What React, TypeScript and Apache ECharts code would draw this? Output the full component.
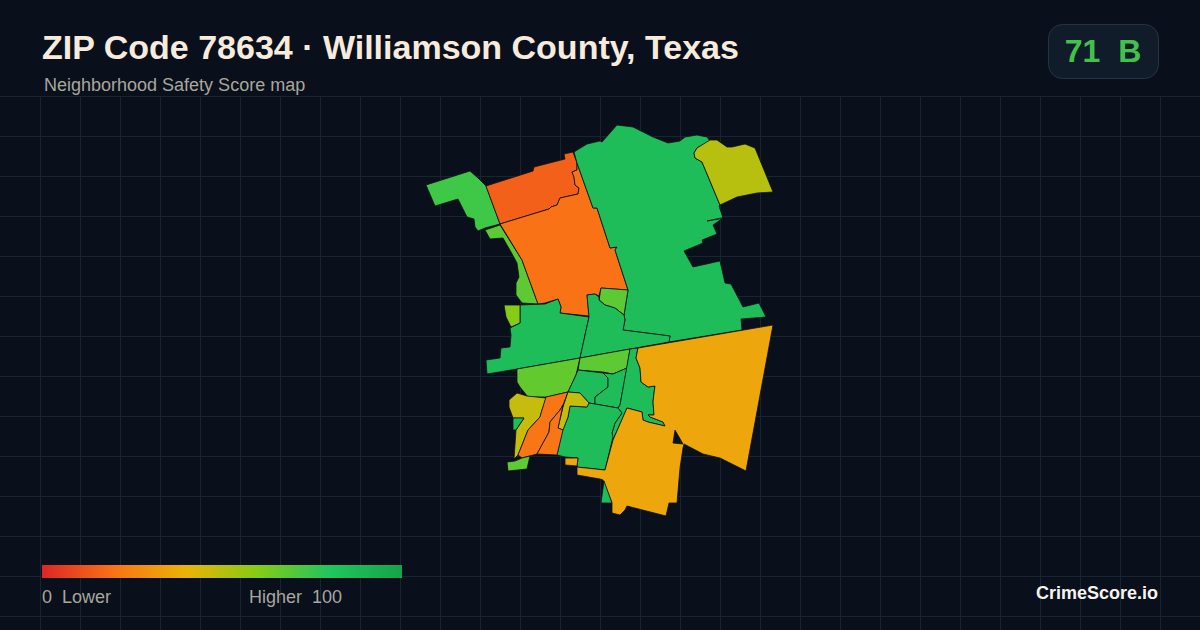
import React, { useEffect, useRef } from "react";
import * as echarts from "echarts";

type Pt = [number, number];

const titleText = "ZIP Code 78634 · Williamson County, Texas";
const subtitleText = "Neighborhood Safety Score map";
const badgeText = "71  B";
const legendLow = "0  Lower";
const legendHigh = "Higher  100";
const brandText = "CrimeScore.io";
const scaleColors = ["#dc2626", "#f97316", "#eab308", "#84cc16", "#22c55e", "#16a34a"];

const regionNames = [
  "nw", "sliver", "redOrange", "orange", "northGreen", "northLine", "nwLime", "ne", "west", "westLime",
  "center", "midLime", "midStrip", "innerA", "innerB", "eastGreen", "south", "amber", "amberBit", "tipGreen",
  "swOlive", "swGreen", "swOrange", "seOlive", "seOrange", "swLime",
];
const regionValues = [
  74, 68, 15, 20, 85, 85, 68, 50, 85, 60,
  85, 67, 68, 85, 85, 85, 85, 36, 36, 85,
  47, 85, 21, 47, 21, 68,
];
const regionRings: Pt[][][] = [
  [[[426,185],[470,171],[478,178],[486,186],[500,224],[485,228],[478,231],[475,227],[474,219],[467,217],[458,199],[435,206]]],
  [[[485,230],[500,225],[522,260],[538,304],[522,303],[516,295],[516,283],[519,277],[517,263],[511,252],[503,238],[490,239]]],
  [[[486,186],[533,171],[534,167],[565,159],[564,154],[573,152],[577,163],[577,170],[572,172],[574,177],[575,185],[579,188],[578,194],[560,198],[557,205],[551,207],[549,209],[500,224]]],
  [[[500,224],[549,209],[551,207],[557,205],[560,198],[578,194],[579,188],[575,185],[574,177],[572,172],[577,170],[577,163],[593,208],[597,208],[610,248],[617,247],[615,250],[628,290],[601,288],[599,296],[595,294],[587,295],[589,316],[560,313],[561,307],[558,299],[545,303],[538,304],[522,260]]],
  [[[574,152],[587,144],[600,141],[602,142],[617,125],[633,127],[653,137],[668,143],[680,141],[685,137],[697,135],[707,137],[710,141],[697,148],[694,153],[695,158],[702,162],[720,205],[719,206],[723,218],[713,225],[717,234],[702,240],[703,243],[684,251],[693,267],[720,261],[725,283],[731,284],[743,307],[759,303],[766,317],[741,319],[742,330],[669,342],[670,336],[623,330],[625,320],[624,315],[628,290],[615,250],[617,247],[610,248],[597,208],[593,208],[577,163]]],
  [[[707,221],[723,217.6],[723,218.4]]],
  [[[601,288],[628,290],[624,315],[615,308],[605,305],[599,300]]],
  [[[710,140],[717,140],[727,147],[732,147],[745,144],[755,148],[773,192],[757,193],[737,197],[720,205],[702,162],[695,158],[694,153],[697,148]]],
  [[[520,305],[545,304],[558,299],[561,307],[560,313],[589,317],[580,358],[517,369],[487,374],[486,360],[500,358],[501,348],[510,347],[511,335],[510,328],[520,323]]],
  [[[504,305],[520,305],[520,323],[511,327],[506,317]]],
  [[[587,295],[595,294],[599,297],[599,300],[605,305],[615,308],[624,315],[625,320],[623,330],[670,336],[669,342],[580,358],[589,317]]],
  [[[517,369],[580,358],[576,375],[568,392],[547,397],[528,397],[520,387],[517,382]]],
  [[[580,358],[630,349],[627,368],[613,374],[603,372],[578,370]]],
  [[[578,370],[603,373],[608,378],[608,387],[595,397],[595,404],[589,403],[580,393],[568,392],[576,375]]],
  [[[603,373],[613,374],[627,368],[620,405],[618,408],[595,404],[595,397],[608,387],[608,378]]],
  [[[630,349],[638,348],[636,358],[640,368],[641,382],[648,387],[655,386],[654,393],[653,402],[654,415],[648,415],[650,417],[663,422],[665,426],[648,422],[643,420],[642,412],[627,408],[613,440],[612,433],[615,423],[622,413],[618,408],[620,405]]],
  [[[570,406],[587,407],[589,403],[595,404],[618,408],[622,413],[615,423],[612,433],[613,437],[605,470],[577,467],[578,458],[565,457],[557,455],[562,432],[568,417]]],
  [
    [[638,348],[773,325],[746,471],[720,458],[703,454],[684,444],[683,448],[680,468],[677,503],[669,503],[666,516],[627,506],[625,510],[620,515],[612,513],[612,503],[603,480],[600,479],[577,475],[577,467],[605,470],[613,440],[627,408],[642,412],[643,420],[648,422],[665,426],[663,422],[650,417],[648,415],[654,415],[653,402],[654,393],[655,386],[648,387],[641,382],[640,368],[636,358]],
    [[675,430],[673,443],[683,444]],
  ],
  [[[565,458],[578,458],[577,466],[565,465]]],
  [[[604,481],[612,503],[601,503]]],
  [[[509,400],[517,393],[527,396],[546,398],[542,410],[540,417],[528,430],[518,455],[514,459],[516,430],[524,418],[513,418],[509,407]]],
  [[[513,418],[524,418],[516,430],[513,430]]],
  [[[546,397],[568,392],[563,405],[560,410],[550,422],[549,432],[537,454],[522,458],[518,455],[528,430],[540,417],[542,410]]],
  [[[568,392],[580,393],[589,403],[587,407],[570,406],[568,417],[563,430],[558,428],[563,407]]],
  [[[563,405],[558,428],[563,430],[557,455],[537,454],[549,432],[550,422],[560,410]]],
  [[[507,462],[515,461],[522,458],[530,456],[527,469],[508,471]]],
];

const gridXs = Array.from({ length: 30 }, (_, i) => (i + 1) * 40);
const gridYs = Array.from({ length: 14 }, (_, i) => 96 + i * 40);

export default function App() {
  const ref = useRef<HTMLDivElement>(null);
  useEffect(() => {
    document.body.style.margin = "0";
    document.body.style.background = "#0a101b";
    const chart = echarts.init(ref.current!, null, { renderer: "svg" });
    const geoJson: any = {
      type: "FeatureCollection",
      features: regionNames.map((name, i) => ({
        type: "Feature",
        properties: { name },
        geometry: { type: "Polygon", coordinates: regionRings[i] },
      })),
    };
    echarts.registerMap("zip78634", geoJson);
    const allPts = regionRings.flat(2);
    const xs = allPts.map((p) => p[0]);
    const ys = allPts.map((p) => p[1]);
    const minX = Math.min(...xs), maxX = Math.max(...xs), minY = Math.min(...ys), maxY = Math.max(...ys);
    const font = "'Liberation Sans', Arial, sans-serif";

    const gridColor = "#162530";
    const gradient = new echarts.graphic.LinearGradient(
      0, 0, 1, 0,
      scaleColors.map((color, i) => ({ offset: i / (scaleColors.length - 1), color }))
    );
    const graphics: any[] = [
      ...gridXs.map((x) => ({ type: "line", silent: true, shape: { x1: x + 0.5, y1: 96, x2: x + 0.5, y2: 630 }, style: { stroke: gridColor, lineWidth: 1 } })),
      ...gridYs.map((y) => ({ type: "line", silent: true, shape: { x1: 0, y1: y + 0.5, x2: 1200, y2: y + 0.5 }, style: { stroke: gridColor, lineWidth: 1 } })),
      { type: "text", x: 42, y: 47, style: { text: titleText, fill: "#f6ebdc", fontFamily: font, fontWeight: "bold", fontSize: 34, textVerticalAlign: "middle" } },
      { type: "text", x: 44, y: 85, style: { text: subtitleText, fill: "#a8a69d", fontFamily: font, fontSize: 18, textVerticalAlign: "middle" } },
      { type: "rect", shape: { x: 1048.5, y: 24.5, width: 110, height: 54, r: 14 }, style: { fill: "#111c2a", stroke: "#263442", lineWidth: 1 } },
      { type: "text", x: 1103, y: 51, style: { text: badgeText, fill: "#41c24b", fontFamily: font, fontWeight: "bold", fontSize: 32, textAlign: "center", textVerticalAlign: "middle" } },
      { type: "rect", shape: { x: 42, y: 565, width: 360, height: 13 }, style: { fill: gradient } },
      { type: "text", x: 42, y: 597, style: { text: legendLow, fill: "#a8a69d", fontFamily: font, fontSize: 18, textVerticalAlign: "middle" } },
      { type: "text", x: 342, y: 597, style: { text: legendHigh, fill: "#a8a69d", fontFamily: font, fontSize: 18, textAlign: "right", textVerticalAlign: "middle" } },
      { type: "text", x: 1158, y: 593, style: { text: brandText, fill: "#f5f3ee", fontFamily: font, fontWeight: "bold", fontSize: 18, textAlign: "right", textVerticalAlign: "middle" } },
    ];

    chart.setOption({
      animation: false,
      backgroundColor: "#0a101b",
      graphic: { elements: graphics },
      visualMap: {
        type: "continuous",
        show: false,
        min: 0,
        max: 100,
        seriesIndex: 0,
        inRange: { color: scaleColors },
      },
      series: [
        {
          type: "map",
          map: "zip78634",
          aspectScale: 1,
          left: minX,
          top: minY,
          width: maxX - minX,
          height: maxY - minY,
          projection: { project: (p: number[]) => p, unproject: (p: number[]) => p },
          silent: true,
          selectedMode: false,
          roam: false,
          label: { show: false },
          emphasis: { disabled: true },
          itemStyle: { borderColor: "#0a101b", borderWidth: 0.8 },
          data: regionNames.map((name, i) => ({ name, value: regionValues[i] })),
        },
      ],
    });
    return () => chart.dispose();
  }, []);
  return <div ref={ref} style={{ position: "absolute", left: 0, top: 0, width: 1200, height: 630 }} />;
}
